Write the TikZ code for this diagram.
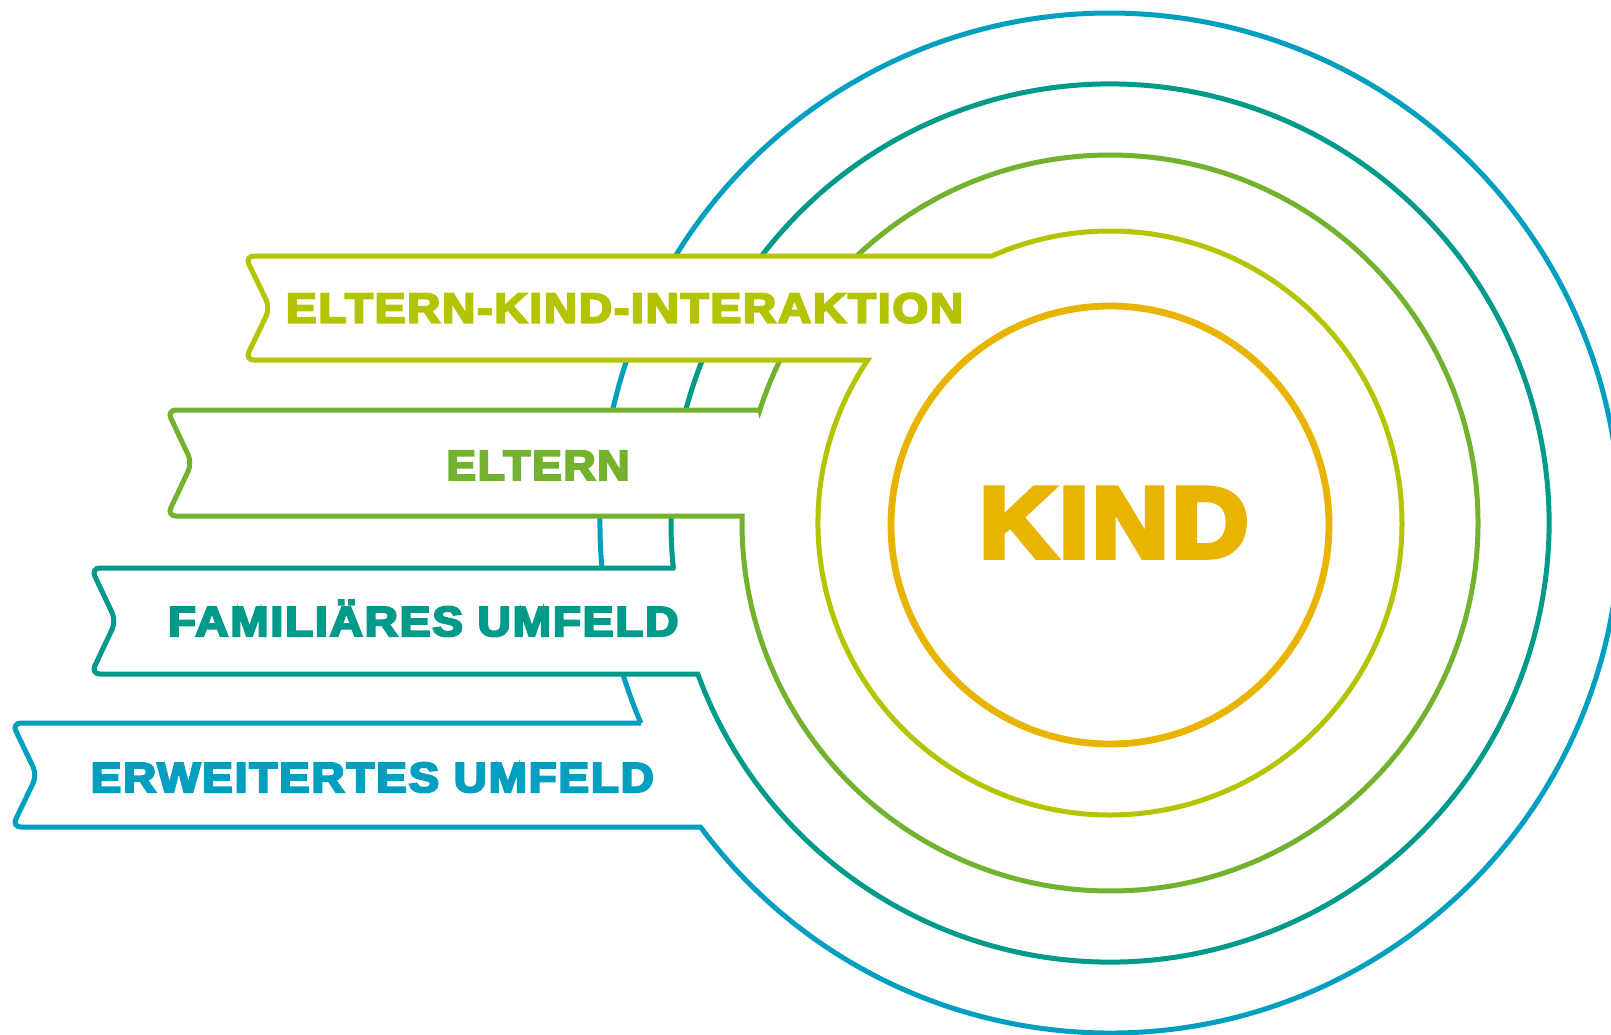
\documentclass[tikz,border=0pt]{standalone}
\usepackage{fontspec}
\setmainfont{Liberation Sans}
\newfontfamily\heavyfont{Liberation Sans}[LetterSpace=4,BoldFeatures={FakeBold=5}]
\newfontfamily\kindfont{Liberation Sans}[LetterSpace=3,BoldFeatures={FakeBold=5.5}]
\definecolor{cYG}{HTML}{B5C400}
\definecolor{cGR}{HTML}{72B22F}
\definecolor{cTE}{HTML}{009A8A}
\definecolor{cBL}{HTML}{009FBF}
\definecolor{cGO}{HTML}{E8B400}
\tikzset{
  ribbon/.style={line width=2.5pt, fill=white, line join=miter},
  lbl/.style={anchor=base west, inner sep=0pt, font=\heavyfont\bfseries\fontsize{21}{21}\selectfont},
  kindlbl/.style={anchor=base west, inner sep=0pt, font=\kindfont\bfseries\fontsize{50}{50}\selectfont},
}
\begin{document}
\begin{tikzpicture}[x=0.5pt,y=0.5pt]
\fill[white] (0,0) rectangle (1611,-1034);
\useasboundingbox (0,0) rectangle (1611,-1034);
% banner 4: ERWEITERTES UMFELD
\draw[ribbon, draw=cBL] (640.9,-723) [rounded corners=4.5pt] -- (12,-723) -- (37,-775) -- (12,-827) [sharp corners] -- (700.5,-827) arc[start angle=216.59, end angle=563.09, radius=510] -- cycle;
% banner 3: FAMILIAERES UMFELD
\draw[ribbon, draw=cTE] (673.3,-568) [rounded corners=4.5pt] -- (91,-568) -- (116,-621) -- (91,-674) [sharp corners] -- (697.8,-674) arc[start angle=200.12, end angle=545.88, radius=439] -- cycle;
% banner 2: ELTERN
\draw[ribbon, draw=cGR] (759.8,-410) [rounded corners=4.5pt] -- (167,-410) -- (192,-463) -- (167,-516) [sharp corners] -- (742.1,-516) arc[start angle=178.91, end angle=522.12, radius=368] -- cycle;
% banner 1: ELTERN-KIND-INTERAKTION
\draw[ribbon, draw=cYG] (991.8,-256) [rounded corners=4.5pt] -- (245,-256) -- (270,-308) -- (245,-360) [sharp corners] -- (867.7,-360) arc[start angle=146.07, end angle=473.86, radius=292] -- cycle;
% KIND circle
\draw[cGO, line width=3.4pt] (1110,-525) circle[radius=219];
% labels
\node[lbl, text=cYG] (t1) at (285.6,-322.6) {\resizebox{338.6pt}{\height}{ELTERN-KIND-INTERAKTION}};
\node[lbl, text=cGR] (t2) at (446,-479.8) {\resizebox{91.5pt}{\height}{ELTERN}};
\node[lbl, text=cTE] (t3) at (167.5,-636) {\resizebox{255.3pt}{\height}{FAMILIÄRES UMFELD}};
\node[lbl, text=cBL] (t4) at (90.4,-792) {\resizebox{281.5pt}{\height}{ERWEITERTES UMFELD}};
\node[kindlbl, text=cGO] (kind) at (979,-557) {\resizebox{134.5pt}{\height}{KIND}};
\end{tikzpicture}
\end{document}
